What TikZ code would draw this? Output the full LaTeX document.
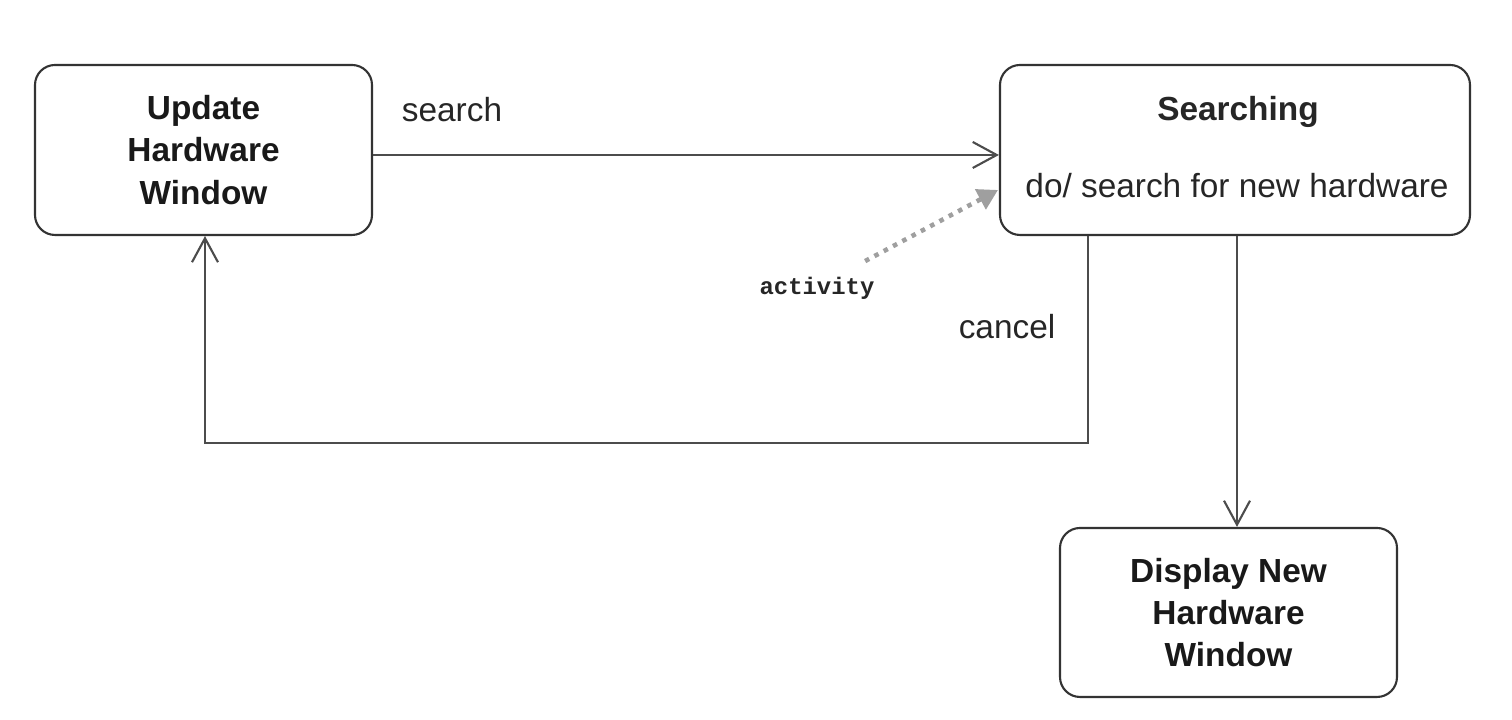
\documentclass[tikz,border=0pt]{standalone}
\usepackage{fontspec}
\setmainfont{Liberation Sans}
\newfontfamily\actfont{Liberation Mono}
\usetikzlibrary{arrows.meta}
\begin{document}
\begin{tikzpicture}[
    line width=0.6pt,
    state/.style={draw=black!80, rectangle, rounded corners=0.2cm, align=center, font=\fontsize{9.5}{12}\selectfont\bfseries, text=black!90},
    trans/.style={draw=black!70, -{Straight Barb[length=2.4mm,width=2.6mm]}},
    trlabel/.style={font=\fontsize{9.5}{12}\selectfont, text=black!85},
    actlink/.style={draw=gray!75, line width=1.3pt, dash pattern=on 1.3pt off 1.7pt, -{Triangle[length=2mm,width=2.2mm,fill=gray!75]}}
]
  \useasboundingbox (0,0) rectangle (15.12,7.2);

  % Estados
  \node[state, minimum width=3.37cm, minimum height=1.70cm] (upd) at (2.035,5.70) {Update\\Hardware\\Window};
  \node[state, minimum width=4.70cm, minimum height=1.70cm] (srch) at (12.35,5.70) {};
  \node[state, minimum width=3.37cm, minimum height=1.69cm] (disp) at (12.285,1.075) {Display New\\Hardware\\Window};

  % Texto dentro de Searching
  \node[trlabel, font=\fontsize{9.5}{12}\selectfont\bfseries] (srch_name) at (12.38,6.08) {Searching};
  \node[trlabel] (srch_do) at (12.37,5.34) {do/ search for new hardware};

  % Etiquetas
  \node[trlabel] (lab_search) at (4.52,6.10) {search};
  \node[trlabel] (lab_cancel) at (10.07,3.93) {cancel};
  \node[font=\fontsize{6.8}{8}\selectfont\actfont\bfseries, text=black!85] (act) at (8.17,4.32) {activity};

  % Transiciones
  \coordinate (cancel_turn) at (10.88,2.77);
  \coordinate (act_end) at (9.98,5.30);
  \draw[trans] ([yshift=-0.05cm]upd.east) -- ([yshift=-0.05cm]srch.west);
  \draw[trans] (cancel_turn |- srch.south) -- (cancel_turn) -| ([xshift=0.015cm]upd.south);
  \draw[trans] ([xshift=0.02cm]srch.south) -- ([xshift=0.02cm]srch.south |- disp.north);
  \draw[actlink] ([xshift=-0.22cm,yshift=0.03cm]act.north east) -- (act_end);

\end{tikzpicture}
\end{document}
